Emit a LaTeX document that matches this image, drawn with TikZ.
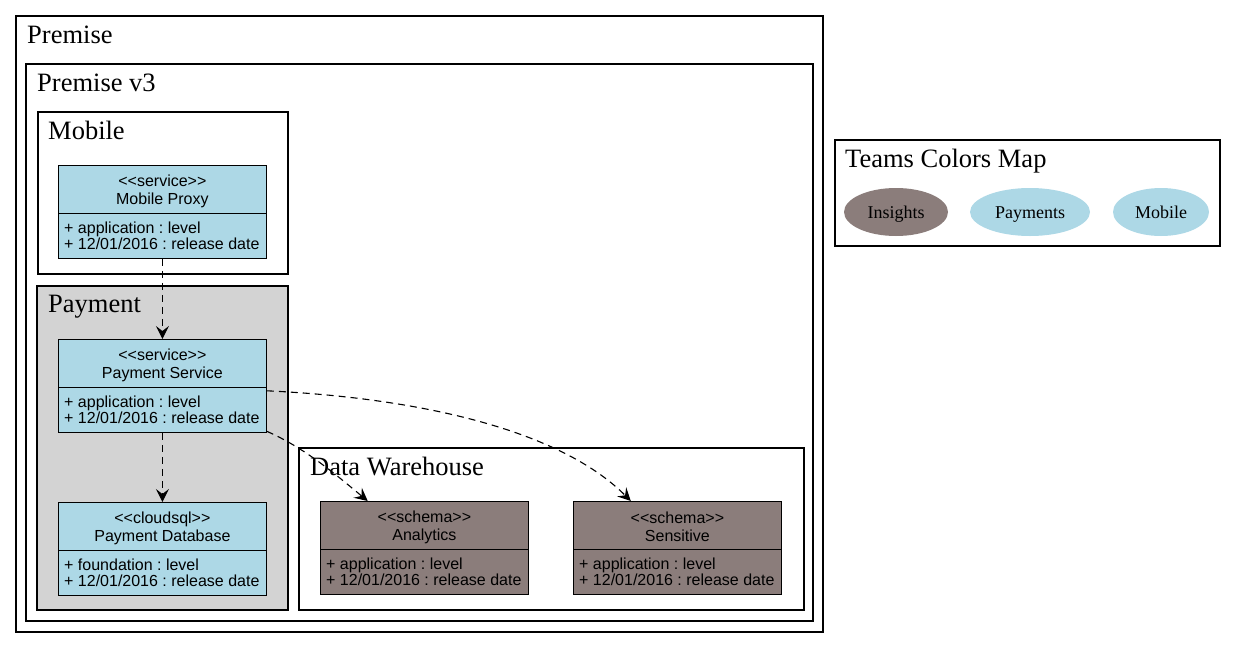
\documentclass[tikz,border=0pt]{standalone}
\usepackage{fontspec}
\setmainfont{Liberation Serif}
\newfontfamily\recfont{Liberation Sans}
\usepackage{xcolor}
\usepackage{tikz}
\usetikzlibrary{arrows.meta,shapes.geometric,positioning}

\definecolor{teamblue}{HTML}{ADD8E6}
\definecolor{teambrown}{HTML}{8B7D7B}
\definecolor{clustergray}{HTML}{D3D3D3}

% record box: name, left x, top y, fill, stereotype, title, attribute lines
\newcommand{\umlrec}[8]{%
  \node[rec,fill=#4,anchor=north west] (#1) at (#2,#3) {};
  \draw[line width=0.8pt] ([yshift=-48pt]#1.north west) -- ([yshift=-48pt]#1.north east);
  \node[rectitle] (#1-t) at ([yshift=-26pt]#1.north) {<{}<#5>{}>\\#6};
  \node[recattr] (#1-a) at ([xshift=6pt,yshift=-71pt]#1.north west) {#7\\#8};
}

\begin{document}
\frenchspacing
\begin{tikzpicture}[x=1pt,y=-1pt,
  cluster/.style={draw=black,line width=2pt},
  clusterlabel/.style={anchor=base west,inner sep=0pt,font=\fontsize{26.5}{30}\selectfont},
  rec/.style={draw=black,line width=0.8pt,minimum width=208pt,minimum height=93pt,inner sep=0pt},
  rectitle/.style={align=center,inner sep=0pt,font=\recfont\fontsize{16}{18}\selectfont},
  recattr/.style={align=left,anchor=west,inner sep=0pt,font=\recfont\fontsize{16}{16}\selectfont},
  team/.style={ellipse,draw=none,inner sep=0pt,minimum height=48pt,text height=14pt,text depth=2pt,font=\fontsize{18}{20}\selectfont},
  dep/.style={dash pattern=on 7pt off 5pt,line width=1.1pt,-{Stealth[length=13pt,width=13pt,inset=5pt]}}]

\useasboundingbox (0,0) rectangle (1236,648);

% clusters
\draw[cluster] (16,16) rectangle (823,632);
\draw[cluster] (26,64) rectangle (813,621);
\draw[cluster] (38,112) rectangle (288,274);
\draw[cluster,fill=clustergray] (37,286) rectangle (288,610);
\draw[cluster] (299,448) rectangle (804,610);
\draw[line width=1.2pt] (835,140) rectangle (1220,246);

\node[clusterlabel] (premise) at (27,43) {Premise};
\node[clusterlabel] (premisev3) at (37,91) {Premise v3};
\node[clusterlabel] (mobilelbl) at (48,139) {Mobile};
\node[clusterlabel] (paymentlbl) at (48,312) {Payment};
\node[clusterlabel] (dwlbl) at (310,475) {Data Warehouse};
\node[clusterlabel] (teamslbl) at (845,167) {Teams Colors Map};

% records
\umlrec{proxy}{58}{165}{teamblue}{service}{Mobile Proxy}{+ application : level}{+ 12/01/2016 : release date}
\umlrec{paysvc}{58}{339}{teamblue}{service}{Payment Service}{+ application : level}{+ 12/01/2016 : release date}
\umlrec{paydb}{58}{502}{teamblue}{cloudsql}{Payment Database}{+ foundation : level}{+ 12/01/2016 : release date}
\umlrec{analytics}{320}{501}{teambrown}{schema}{Analytics}{+ application : level}{+ 12/01/2016 : release date}
\umlrec{sensitive}{573}{501}{teambrown}{schema}{Sensitive}{+ application : level}{+ 12/01/2016 : release date}

% dependencies
\draw[dep] (proxy) -- (paysvc);
\draw[dep] (paysvc) -- (paydb);
\draw[dep] (paysvc) .. controls (305,448) and (335,474) .. (analytics);
\draw[dep] (paysvc) .. controls (420,398) and (560,430) .. (sensitive);

% team colours
\node[team,fill=teambrown,minimum width=104pt] (insights) at (896,212) {Insights};
\node[team,fill=teamblue,minimum width=120pt] (payments) at (1030,212) {Payments};
\node[team,fill=teamblue,minimum width=96pt] (mobile) at (1161,212) {Mobile};

\end{tikzpicture}
\end{document}
